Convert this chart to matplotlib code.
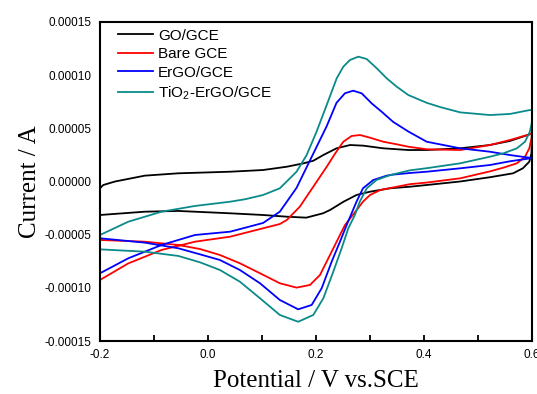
import matplotlib
matplotlib.use("Agg")
import matplotlib.pyplot as plt
import numpy as np
from matplotlib.ticker import FormatStrFormatter, MultipleLocator

plt.rcParams["mathtext.fontset"] = "custom"
plt.rcParams["mathtext.rm"] = "Liberation Sans"
plt.rcParams["mathtext.it"] = "Liberation Sans:italic"

# currents in units of 1e-5 A, each loop: forward scan then reverse scan

go_v = [-0.2, -0.2, -0.194, -0.172, -0.117, -0.055, 0.041, 0.102, 0.146, 0.177, 0.195, 0.2136, 0.238, 0.263,
        0.2876, 0.3246, 0.371, 0.405, 0.467, 0.522, 0.559, 0.596, 0.6,
        0.599, 0.595, 0.583, 0.565, 0.522, 0.467, 0.405, 0.374, 0.337, 0.3, 0.275, 0.251, 0.226, 0.213,
        0.182, 0.146, 0.102, 0.041, -0.055, -0.117, -0.2]
go_i = [-3.15, -0.64, -0.33, 0.0, 0.55, 0.77, 0.92, 1.08, 1.39, 1.71, 1.95, 2.49, 3.12, 3.43,
        3.37, 3.12, 2.96, 2.96, 3.12, 3.43, 3.81, 4.44, 4.55,
        2.65, 1.86, 1.24, 0.77, 0.4, 0.0, -0.33, -0.49, -0.64, -0.96, -1.27, -1.9, -2.68, -2.99,
        -3.4, -3.31, -3.15, -2.99, -2.77, -2.84, -3.15]

bare_v = [-0.2, -0.1475, -0.086, -0.024, 0.041, 0.102, 0.133, 0.146, 0.17, 0.195, 0.22, 0.235, 0.2506, 0.266,
          0.2815, 0.3, 0.3246, 0.3494, 0.371, 0.405, 0.467, 0.522, 0.559, 0.596, 0.6,
          0.599, 0.595, 0.587, 0.572, 0.547, 0.522, 0.467, 0.405, 0.374, 0.349, 0.319, 0.3, 0.287, 0.275,
          0.2537, 0.2444, 0.2259, 0.2074, 0.1889, 0.164, 0.133, 0.0963, 0.059, 0.022, -0.0148, -0.055,
          -0.117, -0.2]
bare_i = [-9.26, -7.7, -6.44, -5.66, -5.19, -4.4, -4.0, -3.62, -2.37, -0.49, 1.4, 2.6, 3.74, 4.28,
          4.37, 4.12, 3.74, 3.5, 3.27, 3.03, 2.96, 3.43, 3.9, 4.44, 4.55,
          4.06, 3.12, 2.33, 1.71, 1.3, 0.95, 0.3, -0.1, -0.25, -0.5, -0.8, -1.27, -1.9, -2.7,
          -4.09, -5.03, -6.91, -8.79, -9.73, -9.98, -9.57, -8.63, -7.69, -6.91, -6.35, -5.97,
          -5.66, -5.5]

ergo_v = [-0.2, -0.1475, -0.086, -0.024, 0.041, 0.102, 0.133, 0.164, 0.189, 0.2198, 0.238, 0.2537, 0.269,
          0.2846, 0.303, 0.3216, 0.343, 0.371, 0.405, 0.467, 0.522, 0.559, 0.6,
          0.559, 0.522, 0.467, 0.405, 0.374, 0.343, 0.331, 0.306, 0.287, 0.275, 0.2568, 0.2444, 0.229,
          0.2105, 0.192, 0.167, 0.133, 0.0963, 0.059, 0.022, -0.0148, -0.055, -0.117, -0.2]
ergo_i = [-8.63, -7.22, -5.97, -5.03, -4.72, -3.9, -2.84, -0.6, 2.0, 5.2, 7.4, 8.3, 8.54,
          8.29, 7.35, 6.56, 5.6, 4.7, 3.74, 3.12, 2.8, 2.49, 2.2,
          1.9, 1.55, 1.24, 0.92, 0.8, 0.65, 0.55, 0.14, -0.64, -1.9, -4.09, -5.66, -7.54,
          -10.04, -11.61, -12.02, -11.14, -9.57, -8.32, -7.38, -6.85, -6.28, -5.75, -5.34]

tio2_v = [-0.2, -0.1475, -0.086, -0.024, 0.041, 0.0685, 0.102, 0.133, 0.164, 0.1827, 0.201, 0.2198, 0.2383,
          0.2506, 0.263, 0.2784, 0.2938, 0.3124, 0.331, 0.3494, 0.371, 0.405, 0.43, 0.467, 0.522, 0.559,
          0.596, 0.6,
          0.6, 0.596, 0.587, 0.572, 0.547, 0.522, 0.467, 0.405, 0.374, 0.337, 0.312, 0.294, 0.281, 0.272,
          0.2598, 0.2475, 0.232, 0.2136, 0.195, 0.167, 0.133, 0.0963, 0.059, 0.022, -0.0148, -0.055,
          -0.117, -0.2]
tio2_i = [-5.03, -3.78, -2.84, -2.3, -1.9, -1.67, -1.27, -0.64, 0.92, 2.49, 4.68, 7.19, 9.7,
          10.8, 11.43, 11.74, 11.52, 10.65, 9.7, 8.92, 8.13, 7.4, 7.0, 6.5, 6.25, 6.35,
          6.72, 6.7,
          5.62, 4.68, 3.74, 3.12, 2.65, 2.33, 1.71, 1.25, 1.05, 0.6, 0.14, -0.64, -1.9, -3.15,
          -4.4, -6.28, -8.48, -10.98, -12.55, -13.19, -12.55, -10.98, -9.42, -8.32, -7.6, -7.0,
          -6.6, -6.38]

labels = ["GO/GCE", "Bare GCE", "ErGO/GCE", "TiO$_2$-ErGO/GCE"]
colors = ["#000000", "#ff0000", "#0000ff", "#0b8a8a"]

fig = plt.figure(figsize=(5.37, 3.94), dpi=100)
ax = fig.add_axes([0.1862, 0.1345, 0.8045, 0.8097])

curves = [(go_v, go_i), (bare_v, bare_i), (ergo_v, ergo_i), (tio2_v, tio2_i)]
for (v, i), lab, c in zip(curves, labels, colors):
    ax.plot(v, np.array(i) * 1e-5, color=c, lw=1.3, label=lab, solid_joinstyle="round")

ax.set_xlim(-0.2, 0.6)
ax.set_ylim(-0.00015, 0.00015)
ax.xaxis.set_major_locator(MultipleLocator(0.2))
ax.xaxis.set_minor_locator(MultipleLocator(0.1))
ax.yaxis.set_major_locator(MultipleLocator(0.00005))
ax.xaxis.set_major_formatter(FormatStrFormatter("%.1f"))
ax.yaxis.set_major_formatter(FormatStrFormatter("%.5f"))

for s in ax.spines.values():
    s.set_linewidth(1.5)

ax.tick_params(axis="x", which="both", direction="in", length=4, width=1.3, pad=6)
ax.tick_params(axis="y", which="both", length=0, pad=6)
for t in ax.get_xticklabels() + ax.get_yticklabels():
    t.set_fontfamily("Liberation Sans")
    t.set_fontsize(8.5)

ax.set_xlabel("Potential / V vs.SCE", family="Liberation Serif", fontsize=18, labelpad=6)
ax.set_ylabel("Current / A", family="Liberation Serif", fontsize=18, labelpad=3)

ax.legend(loc="upper left", frameon=False, prop={"family": "Liberation Sans", "size": 11},
          handlelength=2.3, handletextpad=0.3, labelspacing=0.3, borderaxespad=0.0, borderpad=0.2,
          bbox_to_anchor=(0.0347, 0.989))

fig.savefig("out.png", dpi=100)
